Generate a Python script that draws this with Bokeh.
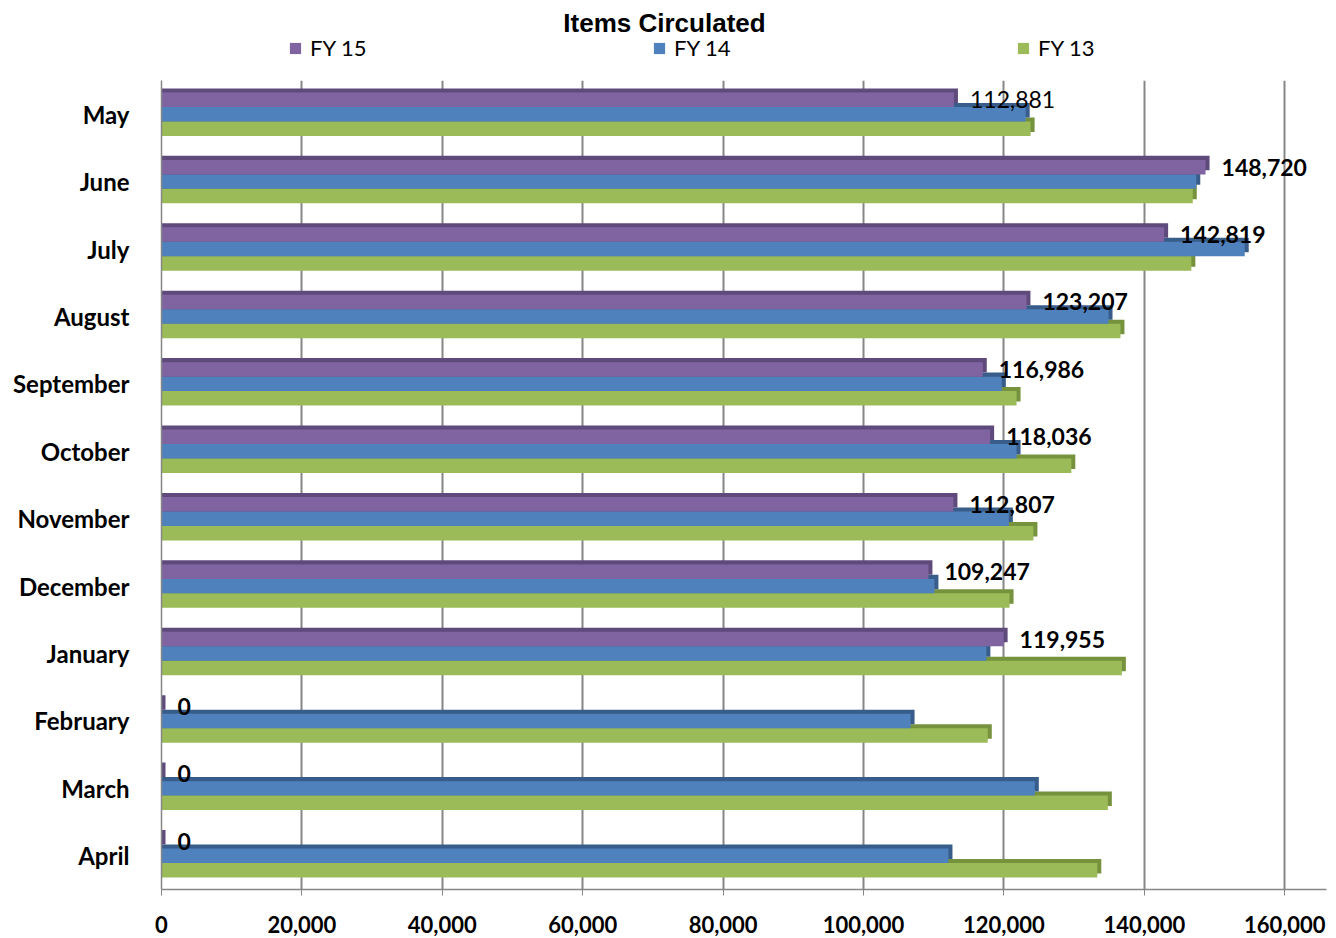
from bokeh.plotting import figure
from bokeh.layouts import column
from bokeh.models import (ColumnDataSource, FactorRange, Legend, LegendItem, NumeralTickFormatter,
                          FixedTicker, Label, Range1d)
from bokeh.transform import dodge
from bokeh.core.properties import value, field
from bokeh.embed import file_html
from bokeh.resources import INLINE

months = ["May", "June", "July", "August", "September", "October",
          "November", "December", "January", "February", "March", "April"]
fy15 = [112881, 148720, 142819, 123207, 116986, 118036, 112807, 109247, 119955, 0, 0, 0]
fy14 = [123100, 147400, 154300, 134900, 119700, 121800, 120700, 110100, 117500, 106700, 124400, 112100]
fy13 = [123800, 146900, 146700, 136600, 121800, 129600, 124200, 120800, 136800, 117700, 134800, 133300]
x_ticks = [0, 20000, 40000, 60000, 80000, 100000, 120000, 140000, 160000]
series_names = ["FY 15", "FY 14", "FY 13"]
face_colors = ["#8064A2", "#4F81BD", "#9BBB59"]
side_colors = ["#5F4A7C", "#385D8A", "#76923C"]
chart_title = "Items Circulated"

labels = [f"{v:,}" for v in fy15]
label_styles = ["normal"] + ["bold"] * (len(months) - 1)

src = ColumnDataSource(dict(month=months, fy15=fy15, fy14=fy14, fy13=fy13,
                            label=labels, style=label_styles))

# ---- header figure: title + legend ----
head = figure(x_range=Range1d(0, 1336), y_range=Range1d(0, 80),
              frame_width=1336, frame_height=80, min_border=0,
              x_axis_type=None, y_axis_type=None,
              output_backend="svg", toolbar_location=None)
head.outline_line_color = None
head.xgrid.visible = False
head.ygrid.visible = False
head.add_layout(Label(x=503, y=58, text=chart_title, text_align="center", text_baseline="middle",
                      text_font="Liberation Sans", text_font_style="bold", text_font_size="26px",
                      text_color="black"))
# legend proxies, kept outside the visible range of the header
proxy = ColumnDataSource(dict(y=[-100], right=[1]))
dummy = [head.hbar(y="y", right="right", height=1, source=proxy,
                   fill_color=face_colors[i], line_color=None) for i in range(3)]
legend = Legend(items=[LegendItem(label=series_names[i], renderers=[dummy[i]]) for i in range(3)],
                orientation="horizontal", location=(288, 19))
legend.padding = 0
legend.margin = 0
legend.border_line_color = None
legend.background_fill_alpha = 0
legend.glyph_width = 14
legend.glyph_height = 14
legend.label_standoff = 8
legend.label_width = 300
legend.spacing = 42
legend.label_text_font = "Lato"
legend.label_text_font_size = "22px"
legend.label_text_color = "black"
head.add_layout(legend, "center")

# ---- main chart ----
p = figure(y_range=FactorRange(*months[::-1]), x_range=(0, 165950),
           frame_width=1165, frame_height=809,
           min_border_left=161, min_border_right=10, min_border_top=0, min_border_bottom=49,
           output_backend="svg", toolbar_location=None)
p.outline_line_color = None
p.background_fill_color = "white"
p.border_fill_color = "white"

bar_h = 0.215
depth_x = 570
depth_y = 0.06
offsets = [bar_h, 0.0, -bar_h]
cols = ["fy15", "fy14", "fy13"]

for i in [2, 1, 0]:
    c = cols[i]
    p.hbar(y=dodge("month", offsets[i] + depth_y, range=p.y_range), left=0,
           right=dodge(c, depth_x), height=bar_h, source=src,
           fill_color=side_colors[i], line_color=None)
    p.hbar(y=dodge("month", offsets[i], range=p.y_range), left=0, right=c,
           height=bar_h, source=src, fill_color=face_colors[i], line_color=None)

p.text(x="fy15", y=dodge("month", bar_h, range=p.y_range), text="label", source=src,
       x_offset=16, text_baseline="middle", text_align="left",
       text_font=value("Lato"), text_font_size="23px", text_font_style=field("style"),
       text_color="black")

grid_gray = "#868686"
p.xaxis.ticker = FixedTicker(ticks=x_ticks)
p.xaxis.formatter = NumeralTickFormatter(format="0,0")
p.xaxis.major_label_text_font = "Lato"
p.xaxis.major_label_text_font_style = "bold"
p.xaxis.major_label_text_font_size = "22px"
p.xaxis.major_label_text_color = "black"
p.xaxis.major_label_standoff = 20
p.xaxis.axis_line_color = grid_gray
p.xaxis.axis_line_width = 1.5
p.xaxis.major_tick_line_color = grid_gray
p.xaxis.major_tick_out = 6
p.xaxis.major_tick_in = 0
p.xaxis.minor_tick_line_color = None

p.yaxis.major_label_text_font = "Lato"
p.yaxis.major_label_text_font_style = "bold"
p.yaxis.major_label_text_font_size = "24px"
p.yaxis.major_label_text_color = "black"
p.yaxis.major_label_standoff = 26
p.yaxis.major_tick_line_color = None
p.yaxis.axis_line_color = grid_gray
p.yaxis.axis_line_width = 1.5

p.ygrid.grid_line_color = None
p.xgrid.grid_line_color = grid_gray
p.xgrid.grid_line_width = 2

layout = column(head, p, spacing=0)
open("out.html", "w").write(file_html(layout, INLINE))
